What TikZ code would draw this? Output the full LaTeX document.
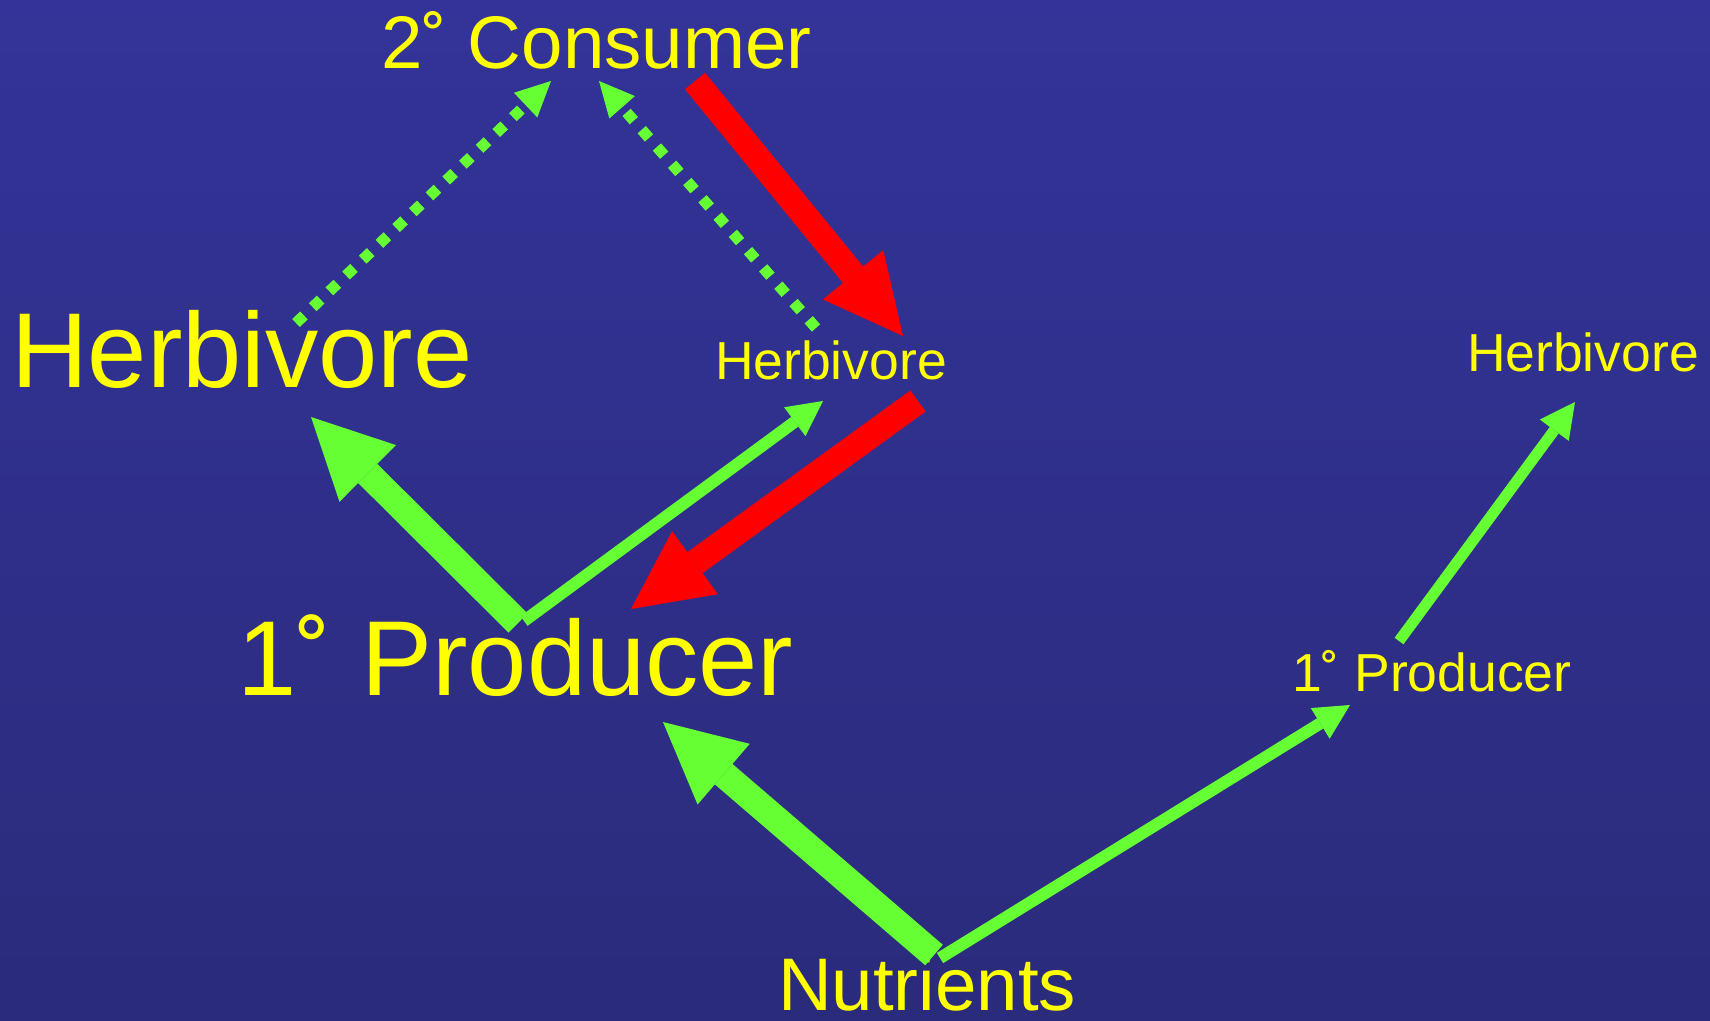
\documentclass[tikz,border=0pt]{standalone}
\usepackage{fontspec}
\setmainfont{Liberation Sans}
\usetikzlibrary{arrows.meta}
\definecolor{bgtop}{RGB}{51,51,153}
\definecolor{bgbot}{RGB}{43,43,124}
\definecolor{lgreen}{RGB}{102,255,51}
\definecolor{tred}{RGB}{255,0,0}
\definecolor{tyel}{RGB}{255,255,0}
\newcommand{\rng}{\raisebox{-0.05em}{˚}}
\begin{document}
\begin{tikzpicture}[x=1pt,y=-1pt,
  lbl/.style={text=tyel, inner sep=0pt, outer sep=0pt, anchor=base west},
  txtHuge/.style={lbl, font=\fontsize{106.5}{106.5}\selectfont},
  txtMid/.style={lbl, font=\fontsize{74.5}{74.5}\selectfont},
  txtSmall/.style={lbl, font=\fontsize{53.5}{53.5}\selectfont},
  fatgreen/.style={draw=lgreen, line width=27pt, -{Triangle[width=80pt,length=80pt,line width=0pt]}},
  thingreen/.style={draw=lgreen, line width=12pt, -{Triangle[width=36pt,length=35pt,line width=0pt]}},
  fatred/.style={draw=tred, line width=26pt, -{Triangle[width=78pt,length=79pt,line width=0pt]}},
  dotgreen/.style={draw=lgreen, line width=11pt, dash pattern=on 11pt off 12pt, -{Triangle[width=34pt,length=35pt,line width=0pt]}}
]
\shade[top color=bgtop, bottom color=bgbot] (0,0) rectangle (1710,1020);
\useasboundingbox (0,0) rectangle (1710,1020);

% labels
\node[txtMid]   (cons) at (381,68)   {2\rng{} Consumer};
\node[txtHuge]  (hb)   at (11,387)   {Herbivore};
\node[txtSmall] (hm)   at (715,379)  {Herbivore};
\node[txtSmall] (hr)   at (1467,371) {Herbivore};
\node[txtHuge]  (pp)   at (237,695)  {1\rng{} Producer};
\node[txtSmall] (pr)   at (1292,691) {1\rng{} Producer};
\node[txtMid]   (nut)  at (778,1010) {Nutrients};

% connector end points
\coordinate (nutA) at (934,955);
\coordinate (ppIn) at (663,722);
\coordinate (nutB) at (940,958);
\coordinate (prIn) at (1350,705);
\coordinate (ppA)  at (518,623);
\coordinate (hbIn) at (311,417);
\coordinate (ppB)  at (524,621);
\coordinate (hmIn) at (823,401);
\coordinate (hmOut) at (918,401);
\coordinate (ppRed) at (631,609);
\coordinate (consOut) at (695,81);
\coordinate (hmRed) at (903,336);
\coordinate (hbOut) at (296,323);
\coordinate (consInL) at (551,81);
\coordinate (hmDot) at (816,328);
\coordinate (consInR) at (599,81);
\coordinate (prOut) at (1399,641);
\coordinate (hrIn) at (1575,402);

% connectors
\draw[fatgreen]  (nutA) -- (ppIn);
\draw[thingreen] (nutB) -- (prIn);
\draw[fatgreen]  (ppA) -- (hbIn);
\draw[thingreen] (ppB) -- (hmIn);
\draw[fatred]    (hmOut) -- (ppRed);
\draw[fatred]    (consOut) -- (hmRed);
\draw[dotgreen]  (hbOut) -- (consInL);
\draw[dotgreen]  (hmDot) -- (consInR);
\draw[thingreen, line width=11pt] (prOut) -- (hrIn);
\end{tikzpicture}
\end{document}
